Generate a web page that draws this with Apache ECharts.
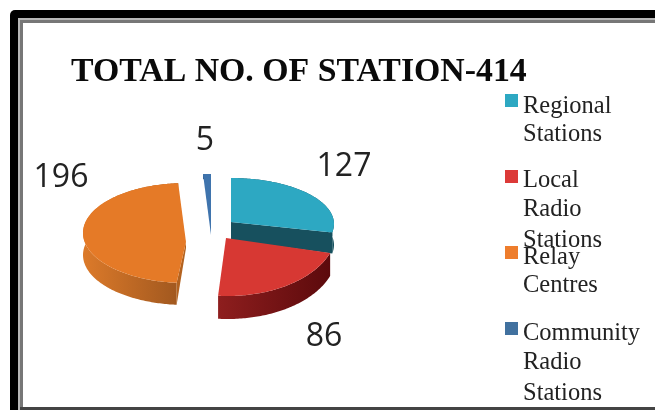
<!DOCTYPE html>
<html>
<head>
<meta charset="utf-8">
<style>html,body{margin:0;padding:0;background:#fff}#c{width:655px;height:410px;filter:blur(0.45px)}</style>
<script src="https://cdn.jsdelivr.net/npm/echarts@6/dist/echarts.min.js"></script>
</head>
<body>
<div id="c"></div>
<script>
const titleText = 'TOTAL NO. OF STATION-414';
const categories = ['Regional Stations', 'Local Radio Stations', 'Relay Centres', 'Community Radio Stations'];
const values = [127, 86, 196, 5];
const legendLines = [['Regional', 'Stations'], ['Local', 'Radio', 'Stations'], ['Relay', 'Centres'], ['Community', 'Radio', 'Stations']];

const topColors = ['#2da8c2', '#d73833', '#e57a27', '#3f74ad'];
const legendColors = ['#2da8c2', '#dc3a38', '#ee7d2c', '#41719f'];
const legendMarkerY = [94, 170, 246, 322];
const legendLineY = [[107, 135], [181, 210, 241], [258, 286], [334, 363, 394]];

// Layout of each exploded wedge: apex, ellipse centre and radii, extrusion depth,
// and the perspective foreshortening of its sweep.
const layout = [
  { apex: [231, 222], c: [231, 224], a: 103, b: 46, d: 21, apexD: 18, cut: 'end', sweep: 0.91,
    side: ['#17525f', '#17525f'], face: '#17505e', label: [344, 167] },
  { apex: [226, 238], c: [228, 230], a: 109, b: 66, d: 23, apexD: 0, cut: null, sweep: 1,
    side: ['#8e1e1e', '#5c0a0c'], face: '#6b0e0e', label: [324, 337] },
  { apex: [186, 242], c: [186, 233], a: 103, b: 50, d: 22, apexD: 6, cut: 'start', sweep: 1,
    side: ['#dc7a2a', '#a1581f'], face: '#b3621f', label: [61, 178] },
  { apex: [211, 235], c: [211, 228], a: 105, b: 54, d: 5, apexD: 0, cut: null, sweep: 1,
    side: ['#2c5585', '#2c5585'], face: '#2c5585', label: [205, 141] }
];

const total = values.reduce((s, v) => s + v, 0);

function renderSlice(params, api) {
  const i = params.dataIndex;
  const L = layout[i];
  let before = 0;
  for (let k = 0; k < i; k++) before += values[k];
  const start = before / total * 2 * Math.PI;
  const end = start + api.value(0) / total * 2 * Math.PI * L.sweep;
  const pt = t => [L.c[0] + L.a * Math.sin(t), L.c[1] - L.b * Math.cos(t)];
  const down = (p, d) => [p[0], p[1] + d];
  const arc = [];
  const n = Math.max(4, Math.ceil((end - start) * 60));
  for (let k = 0; k <= n; k++) arc.push(pt(start + (end - start) * k / n));
  const children = [];
  children.push({
    type: 'polygon',
    shape: { points: arc.concat(arc.slice().reverse().map(p => down(p, L.d))) },
    style: { fill: new echarts.graphic.LinearGradient(0, 0, 1, 0, [
      { offset: 0, color: L.side[0] }, { offset: 1, color: L.side[1] }]) }
  });
  if (L.cut) {
    const e = L.cut === 'end' ? arc[arc.length - 1] : arc[0];
    children.push({
      type: 'polygon',
      shape: { points: [L.apex, e, down(e, L.d), down(L.apex, L.apexD)] },
      style: { fill: L.face }
    });
  }
  children.push({
    type: 'polygon',
    shape: { points: [L.apex].concat(arc) },
    style: { fill: topColors[i] }
  });
  children.push({
    type: 'text',
    style: {
      text: String(api.value(0)), x: L.label[0], y: L.label[1],
      align: 'center', verticalAlign: 'middle',
      fontFamily: 'Open Sans', fontSize: 32, fill: '#222'
    }
  });
  return { type: 'group', children };
}

const frame = [
  { type: 'rect', shape: { x: 10, y: 10, width: 645, height: 400, r: [5, 0, 0, 0] }, style: { fill: '#000' } },
  { type: 'rect', shape: { x: 18, y: 18, width: 637, height: 392 }, style: { fill: '#b8b8b8' } },
  { type: 'rect', shape: { x: 20, y: 20, width: 635, height: 390 }, style: { fill: '#777' } },
  { type: 'rect', shape: { x: 23, y: 23, width: 632, height: 384 }, style: { fill: '#fff' } },
  { type: 'rect', shape: { x: 20, y: 407, width: 635, height: 3 }, style: { fill: '#444' } }
];

const legendEls = [];
categories.forEach((name, i) => {
  legendEls.push({ type: 'rect', z: 5, shape: { x: 505, y: legendMarkerY[i], width: 13, height: 13 }, style: { fill: legendColors[i] } });
  legendLines[i].forEach((line, j) => {
    legendEls.push({ type: 'text', z: 5, x: 523, y: legendLineY[i][j],
      style: { text: line, fontFamily: 'Liberation Serif', fontSize: 24.5, fill: '#222', verticalAlign: 'middle' } });
  });
});

const chart = echarts.init(document.getElementById('c'), null, { renderer: 'canvas', width: 655, height: 410 });
chart.setOption({
  animation: false,
  backgroundColor: '#fff',
  title: {
    text: titleText, left: 71, top: 55, padding: 0, z: 6,
    textStyle: { fontFamily: 'Liberation Serif', fontWeight: 'bold', fontSize: 33.8, color: '#0a0a0a' }
  },
  graphic: { elements: frame.concat(legendEls) },
  series: [{
    type: 'custom',
    coordinateSystem: 'none',
    renderItem: renderSlice,
    data: values.map((v, i) => ({ name: categories[i], value: [v] })),
    z: 4
  }]
});
</script>
</body>
</html>
